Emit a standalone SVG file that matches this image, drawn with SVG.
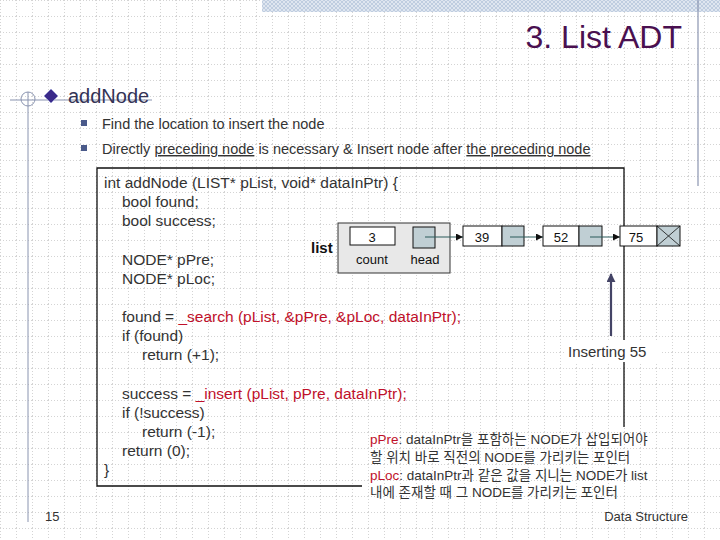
<svg xmlns="http://www.w3.org/2000/svg" width="720" height="540" viewBox="0 0 720 540">
<defs>
<pattern id="grid" width="16" height="16" patternUnits="userSpaceOnUse">
<path d="M0 0.5H16M0.5 0V16" stroke="#d4d4d4" stroke-width="1" stroke-dasharray="1 2" fill="none"/>
</pattern>
<pattern id="hatch" width="4" height="4" patternUnits="userSpaceOnUse">
<rect width="4" height="4" fill="#dfe6f0"/>
<path d="M0 0L4 4M4 0L0 4" stroke="#b7c6dc" stroke-width="0.8"/>
</pattern>
<marker id="ah" viewBox="0 0 10 10" refX="10" refY="5" markerWidth="7" markerHeight="7" orient="auto" markerUnits="userSpaceOnUse">
<path d="M0 0L10 5L0 10z" fill="#111"/>
</marker>
<marker id="up" viewBox="0 0 10 10" refX="9" refY="5" markerWidth="9" markerHeight="9" orient="auto" markerUnits="userSpaceOnUse">
<path d="M0 0L10 5L0 10z" fill="#444466"/>
</marker>
</defs>
<style>
text{font-family:"Liberation Sans","Noto Sans CJK KR",sans-serif;fill:#333}
.code{font-size:15.5px}
.red{fill:#c0102a}
.b{font-size:14.5px}
.n{font-size:13px;fill:#111}
.ko{font-size:13.5px;fill:#333}
.ln{stroke:#111;stroke-width:1.3;fill:none}
</style>
<rect width="720" height="540" fill="#fff"/>
<rect width="720" height="540" fill="url(#grid)"/>
<rect x="262" y="0" width="458" height="12" fill="url(#hatch)"/>
<line x1="698" y1="0" x2="698" y2="186" stroke="#8a94b0" stroke-width="1.2"/>
<line x1="10" y1="100" x2="152" y2="100" stroke="#8a94b0" stroke-width="1.2"/>
<circle cx="28" cy="99" r="7" fill="none" stroke="#8a94b0" stroke-width="1"/>
<line x1="28" y1="92" x2="28" y2="522" stroke="#8a94b0" stroke-width="1"/>
<text x="682" y="48" text-anchor="end" style="font-size:32px;fill:#4a1050">3. List ADT</text>
<path d="M51 89L58 96L51 103L44 96z" fill="#3a2a8a" stroke="#9a9ad0" stroke-width="1"/>
<text x="68" y="103" style="font-size:20px;fill:#333355">addNode</text>
<rect x="81" y="120" width="6" height="6" fill="#4a5a8a"/>
<rect x="81" y="145" width="6" height="6" fill="#4a5a8a"/>
<text x="102" y="129" class="b">Find the location to insert the node</text>
<text x="102" y="154" class="b">Directly <tspan text-decoration="underline">preceding node</tspan> is necessary &amp; Insert node after <tspan text-decoration="underline">the preceding node</tspan></text>
<g id="codebox">
<path d="M362 486H97V168H624V427" class="ln"/>
<text class="code" x="104" y="188">int addNode (LIST* pList, void* dataInPtr) {</text>
<text class="code" x="122" y="207">bool found;</text>
<text class="code" x="122" y="226">bool success;</text>
<text class="code" x="122" y="265">NODE* pPre;</text>
<text class="code" x="122" y="284">NODE* pLoc;</text>
<text class="code" x="122" y="322">found = <tspan class="red">_search (pList, &amp;pPre, &amp;pLoc, dataInPtr);</tspan></text>
<text class="code" x="122" y="341">if (found)</text>
<text class="code" x="142" y="360">return (+1);</text>
<text class="code" x="122" y="399">success = <tspan class="red">_insert (pList, pPre, dataInPtr);</tspan></text>
<text class="code" x="122" y="418">if (!success)</text>
<text class="code" x="142" y="437">return (-1);</text>
<text class="code" x="122" y="456">return (0);</text>
<text class="code" x="104" y="475">}</text>
</g>
<g id="list">
<text x="311" y="253" style="font-size:15px;font-weight:bold;fill:#111">list</text>
<rect x="338" y="223" width="112" height="50" fill="#e8e8e8" stroke="#333" stroke-width="1"/>
<rect x="350" y="227" width="45" height="18" fill="#fff" stroke="#111"/>
<text x="372" y="242" text-anchor="middle" class="n">3</text>
<rect x="413" y="227" width="22" height="21" fill="#c0cfd4" stroke="#111"/>
<text x="372" y="264" text-anchor="middle" class="n">count</text>
<text x="425" y="264" text-anchor="middle" class="n">head</text>
</g>
<g id="node39">
<rect x="463" y="226" width="39" height="20" fill="#fff" stroke="#111"/>
<rect x="502" y="226" width="22" height="20" fill="#c0cfd4" stroke="#111"/>
<text x="482" y="242" text-anchor="middle" class="n">39</text>
</g>
<g id="node52">
<rect x="543" y="226" width="36" height="20" fill="#fff" stroke="#111"/>
<rect x="579" y="226" width="23" height="20" fill="#c0cfd4" stroke="#111"/>
<text x="561" y="242" text-anchor="middle" class="n">52</text>
</g>
<g id="node75">
<rect x="620" y="226" width="37" height="20" fill="#fff" stroke="#111"/>
<rect x="657" y="226" width="23" height="20" fill="#c0cfd4" stroke="#111"/>
<path d="M657 226L680 246M680 226L657 246" stroke="#111" stroke-width="0.8"/>
<text x="636" y="242" text-anchor="middle" class="n">75</text>
</g>
<g id="connectors">
<line x1="425" y1="237" x2="463" y2="237" stroke="#2a5a5a" stroke-width="1" marker-end="url(#ah)"/>
<line x1="510" y1="237" x2="543" y2="237" stroke="#2a5a5a" stroke-width="1" marker-end="url(#ah)"/>
<line x1="590" y1="237" x2="620" y2="237" stroke="#2a5a5a" stroke-width="1" marker-end="url(#ah)"/>
<line x1="611" y1="336" x2="611" y2="274" stroke="#444466" stroke-width="2.2" marker-end="url(#up)"/>
</g>
<rect x="565" y="340" width="95" height="22" fill="#fff"/>
<text x="568" y="357" style="font-size:15px">Inserting 55</text>
<g id="note">
<text class="ko" x="370" y="444"><tspan class="red">pPre</tspan>: dataInPtr을 포함하는 NODE가 삽입되어야</text>
<text class="ko" x="370" y="462">할 위치 바로 직전의 NODE를 가리키는 포인터</text>
<text class="ko" x="370" y="480"><tspan class="red">pLoc</tspan>: dataInPtr과 같은 값을 지니는 NODE가 list</text>
<text class="ko" x="370" y="497">내에 존재할 때 그 NODE를 가리키는 포인터</text>
</g>
<text x="45" y="521" style="font-size:13px">15</text>
<text x="688" y="521" text-anchor="end" style="font-size:13px">Data Structure</text>
</svg>
